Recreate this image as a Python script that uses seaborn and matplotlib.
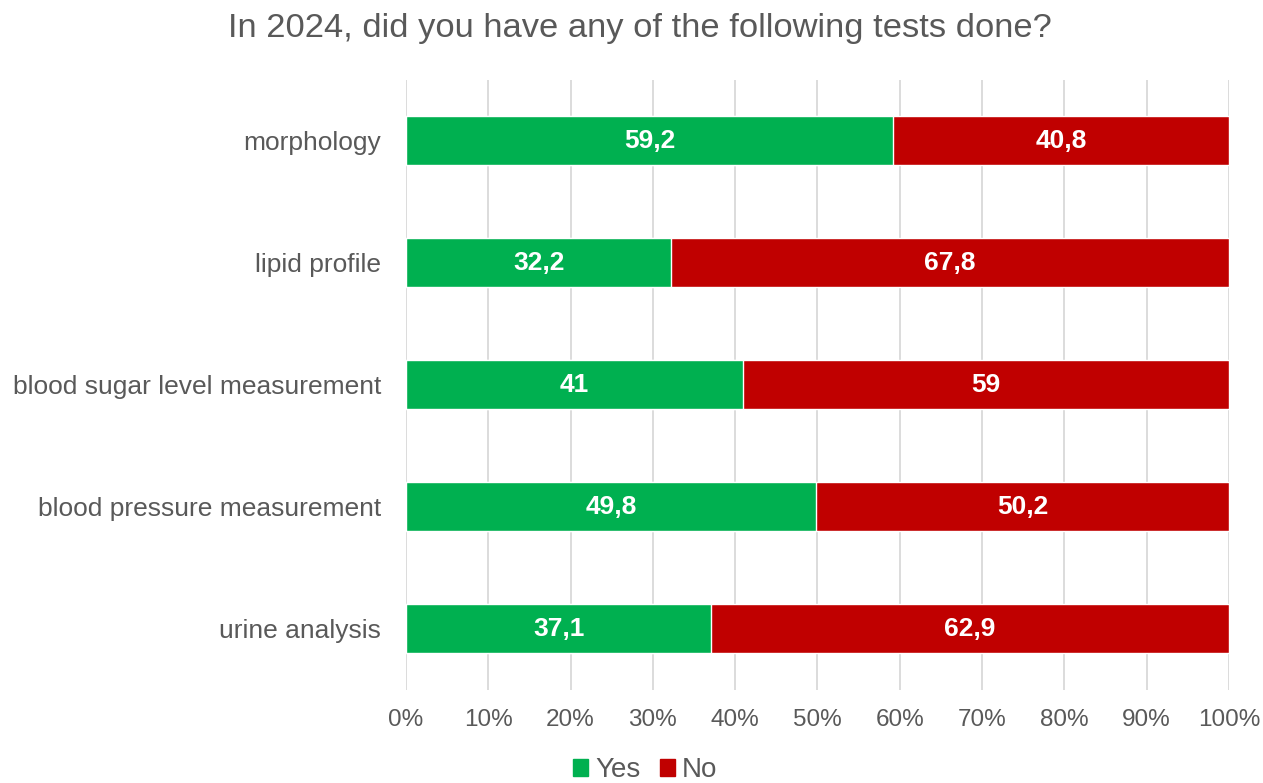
import matplotlib
matplotlib.use("Agg")
import matplotlib.pyplot as plt
from matplotlib.patches import Patch
import seaborn as sns
import pandas as pd

categories = ["morphology", "lipid profile", "blood sugar level measurement",
              "blood pressure measurement", "urine analysis"]
yes_values = [59.2, 32.2, 41.0, 49.8, 37.1]
no_values = [40.8, 67.8, 59.0, 50.2, 62.9]
yes_labels = ["59,2", "32,2", "41", "49,8", "37,1"]
no_labels = ["40,8", "67,8", "59", "50,2", "62,9"]
tick_values = [0, 10, 20, 30, 40, 50, 60, 70, 80, 90, 100]

GREEN = "#00B050"
RED = "#C00000"
GRAY = "#595959"

sns.set_theme(style="white")
plt.rcParams["font.family"] = ["Liberation Sans", "DejaVu Sans"]

df = pd.DataFrame({"test": categories, "yes": yes_values, "no": no_values})
df["total"] = df["yes"] + df["no"]

fig = plt.figure(figsize=(12.63, 7.83), dpi=100)
ax = fig.add_axes([0.3215, 0.119, 0.973 - 0.3215, 0.898 - 0.119])

# Stacked bars: full-length "No" layer underneath, "Yes" share on top
sns.barplot(data=df, y="test", x="total", color=RED, saturation=1,
            width=0.4, ax=ax, zorder=2)
sns.barplot(data=df, y="test", x="yes", color=GREEN, saturation=1,
            width=0.4, ax=ax, zorder=3)

for i, (y, n) in enumerate(zip(yes_values, no_values)):
    ax.text(y / 2, i, yes_labels[i], ha="center", va="center",
            color="white", fontsize=19, fontweight="bold", zorder=4)
    ax.text(y + n / 2, i, no_labels[i], ha="center", va="center",
            color="white", fontsize=19, fontweight="bold", zorder=4)

ax.set_xlim(0, 100)
ax.set_ylim(4.5, -0.5)
ax.set_xticks(tick_values)
ax.set_xticklabels([f"{t}%" for t in tick_values])
ax.xaxis.grid(True, color="#D9D9D9", linewidth=1.3, zorder=0)
ax.set_axisbelow(True)
for s in ax.spines.values():
    s.set_visible(False)
ax.set_xlabel("")
ax.set_ylabel("")
ax.tick_params(axis="x", labelsize=17.5, colors=GRAY, length=0, pad=14)
ax.tick_params(axis="y", labelsize=19, colors=GRAY, length=0, pad=18)

fig.suptitle("In 2024, did you have any of the following tests done?",
             x=640 / 1263, y=1 - 28 / 783, va="center",
             fontsize=24.8, color=GRAY)

handles = [Patch(color=GREEN, label="Yes"), Patch(color=RED, label="No")]
fig.legend(handles=handles, loc="center", bbox_to_anchor=(645 / 1263, 1 - 770 / 783),
           ncol=2, frameon=False, fontsize=20, labelcolor=GRAY,
           handlelength=0.55, handleheight=0.55, handletextpad=0.25, columnspacing=0.7)

fig.savefig("out.png", dpi=100)
